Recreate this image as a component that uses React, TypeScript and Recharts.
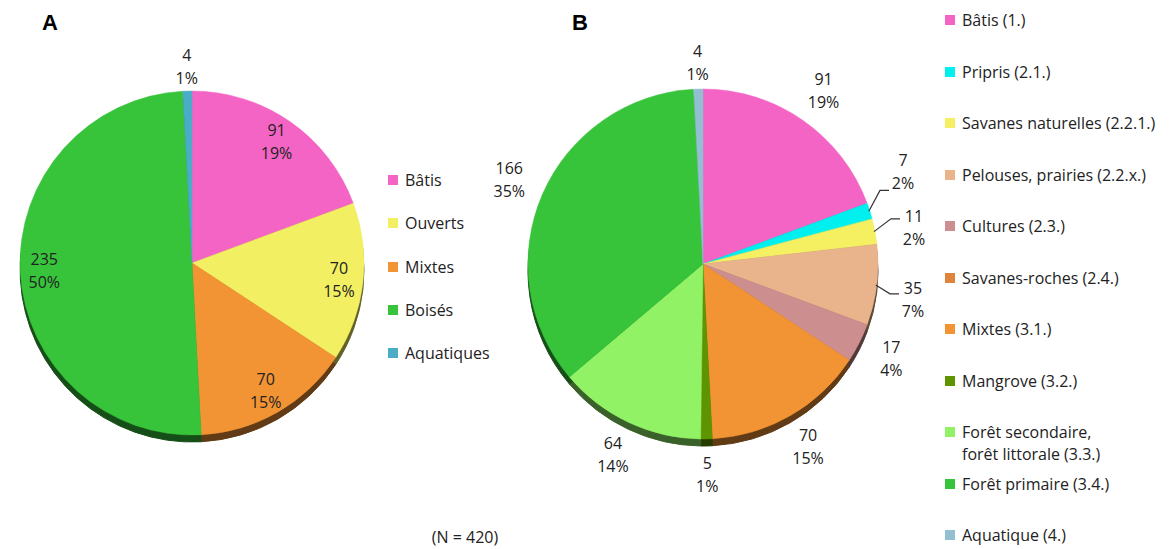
import React from 'react';
import { PieChart, Pie, Cell } from 'recharts';

// Panel A: broad land-cover groups
const categoriesA = ['Bâtis', 'Ouverts', 'Mixtes', 'Boisés', 'Aquatiques'];
const valuesA = [91, 70, 70, 235, 4];
const percentsA = [19, 15, 15, 50, 1];
const colorsA = ['#F464C4', '#F2F062', '#F39434', '#38C43A', '#4BACC6'];

// Panel B: detailed land-cover classes
const categoriesB = [
  'Bâtis (1.)',
  'Pripris (2.1.)',
  'Savanes naturelles (2.2.1.)',
  'Pelouses, prairies (2.2.x.)',
  'Cultures (2.3.)',
  'Savanes-roches (2.4.)',
  'Mixtes (3.1.)',
  'Mangrove (3.2.)',
  'Forêt secondaire,\nforêt littorale (3.3.)',
  'Forêt primaire (3.4.)',
  'Aquatique (4.)',
];
const valuesB = [91, 7, 11, 35, 17, 0, 70, 5, 64, 166, 4];
const percentsB = [19, 2, 2, 7, 4, 0, 15, 1, 14, 35, 1];
const colorsB = [
  '#F464C4', '#00F0F0', '#F4F062', '#E9B48C', '#CC8E8E', '#E0843C',
  '#F39434', '#5E9400', '#92F266', '#38C43A', '#93BFD2',
];

const totalN = 420;

const dataA = categoriesA.map((name, i) => ({ name, value: valuesA[i], pct: percentsA[i] }));
const dataB = categoriesB.map((name, i) => ({ name, value: valuesB[i], pct: percentsB[i] }));

const FONT = '"Open Sans", "Noto Sans", sans-serif';
const FONT_SIZE = 16;
const TEXT = '#222';
const RAD = Math.PI / 180;

const darken = (hex: string, f: number) => {
  const n = parseInt(hex.slice(1), 16);
  const r = Math.round(((n >> 16) & 255) * f);
  const g = Math.round(((n >> 8) & 255) * f);
  const b = Math.round((n & 255) * f);
  return `rgb(${r},${g},${b})`;
};

// geometry of the two pies
const PIE_A = { cx: 187, cy: 258, r: 172 };
const PIE_B = { cx: 698, cy: 259, r: 175 };
const DEPTH = 7;

const polar = (cx: number, cy: number, r: number, deg: number) => ({
  x: cx + r * Math.cos(-deg * RAD),
  y: cy + r * Math.sin(-deg * RAD),
});

const TwoLine = ({ x, y, top, bottom }: { x: number; y: number; top: string; bottom: string }) => (
  <text x={x} y={y} textAnchor="middle" fontFamily={FONT} fontSize={FONT_SIZE} fill={TEXT}>
    <tspan x={x} dy={-11.5 + 5.5}>{top}</tspan>
    <tspan x={x} dy={23}>{bottom}</tspan>
  </text>
);

// Panel A labels: inside the slice, small slices outside
const labelA = (p: any) => {
  const { cx, cy, midAngle, outerRadius, payload, value } = p;
  const small = payload.pct < 3;
  const r = small ? outerRadius + 24 : outerRadius * 0.86;
  const pt = polar(cx, cy, r, midAngle);
  return <TwoLine key={payload.name} x={pt.x} y={pt.y} top={String(value)} bottom={`${payload.pct}%`} />;
};

// Panel B labels: outside, crowded small slices nudged with a leader line
const layoutB: Record<string, { dAngle: number; dR: number; leaderDy?: number }> = {
  'Pripris (2.1.)': { dAngle: 7, dR: 9, leaderDy: 18 },
  'Savanes naturelles (2.2.1.)': { dAngle: -1, dR: 3, leaderDy: -9 },
  'Pelouses, prairies (2.2.x.)': { dAngle: -2.8, dR: 2, leaderDy: -6 },
  'Aquatique (4.)': { dAngle: 0, dR: -10 },
};

const labelB = (p: any) => {
  const { cx, cy, midAngle, outerRadius, payload, value } = p;
  if (!value) return null;
  const lay = layoutB[payload.name] || { dAngle: 0, dR: 0 };
  const pt = polar(cx, cy, outerRadius + 36 + lay.dR, midAngle + lay.dAngle);
  let leader = null;
  if (lay.leaderDy !== undefined) {
    const edge = polar(cx, cy, outerRadius - 1, midAngle);
    const bx = pt.x - 23;
    const by = pt.y + lay.leaderDy;
    leader = (
      <polyline
        points={`${edge.x},${edge.y} ${bx},${by} ${bx + 9},${by}`}
        fill="none"
        stroke="#333"
        strokeWidth={1.2}
      />
    );
  }
  return (
    <g key={payload.name}>
      {leader}
      <TwoLine x={pt.x} y={pt.y} top={String(value)} bottom={`${payload.pct}%`} />
    </g>
  );
};

const Legend = ({ items, colors, x, y0, step }: { items: string[]; colors: string[]; x: number; y0: number; step: number }) => (
  <>
    {items.map((name, i) => (
      <div
        key={name}
        style={{
          position: 'absolute',
          left: x,
          top: y0 + i * step - 11,
          display: 'flex',
          alignItems: 'flex-start',
          fontFamily: FONT,
          fontSize: FONT_SIZE,
          lineHeight: '22px',
          color: TEXT,
          whiteSpace: 'pre',
        }}
      >
        <span style={{ width: 10, height: 10, background: colors[i], marginTop: 6, marginRight: 7, flexShrink: 0 }} />
        <span>{name}</span>
      </div>
    ))}
  </>
);

export default function App() {
  return (
    <div style={{ position: 'absolute', left: 0, top: 0, width: 1169, height: 549, background: '#fff', overflow: 'hidden' }}>
      <PieChart width={1169} height={549} style={{ position: 'absolute', left: 0, top: 0 }}>
        {/* side walls of the tilted pies */}
        <Pie
          data={dataA}
          dataKey="value"
          cx={PIE_A.cx}
          cy={PIE_A.cy + DEPTH}
          outerRadius={PIE_A.r}
          startAngle={90}
          endAngle={-270}
          isAnimationActive={false}
          label={false}
          labelLine={false}
        >
          {dataA.map((d, i) => (
            <Cell key={d.name} fill={darken(colorsA[i], 0.4)} stroke={darken(colorsA[i], 0.4)} />
          ))}
        </Pie>
        <Pie
          data={dataB}
          dataKey="value"
          cx={PIE_B.cx}
          cy={PIE_B.cy + DEPTH}
          outerRadius={PIE_B.r}
          startAngle={90}
          endAngle={-270}
          isAnimationActive={false}
          label={false}
          labelLine={false}
        >
          {dataB.map((d, i) => (
            <Cell key={d.name} fill={darken(colorsB[i], 0.4)} stroke={darken(colorsB[i], 0.4)} />
          ))}
        </Pie>
        {/* pie tops */}
        <Pie
          data={dataA}
          dataKey="value"
          cx={PIE_A.cx}
          cy={PIE_A.cy}
          outerRadius={PIE_A.r}
          startAngle={90}
          endAngle={-270}
          isAnimationActive={false}
          label={labelA}
          labelLine={false}
        >
          {dataA.map((d, i) => (
            <Cell key={d.name} fill={colorsA[i]} stroke={colorsA[i]} strokeWidth={0.5} />
          ))}
        </Pie>
        <Pie
          data={dataB}
          dataKey="value"
          cx={PIE_B.cx}
          cy={PIE_B.cy}
          outerRadius={PIE_B.r}
          startAngle={90}
          endAngle={-270}
          isAnimationActive={false}
          label={labelB}
          labelLine={false}
        >
          {dataB.map((d, i) => (
            <Cell key={d.name} fill={colorsB[i]} stroke={colorsB[i]} strokeWidth={0.5} />
          ))}
        </Pie>
      </PieChart>

      <div style={{ position: 'absolute', left: 42, top: 10, fontFamily: 'Liberation Sans, Arial, sans-serif', fontWeight: 700, fontSize: 22 }}>A</div>
      <div style={{ position: 'absolute', left: 572, top: 10, fontFamily: 'Liberation Sans, Arial, sans-serif', fontWeight: 700, fontSize: 22 }}>B</div>

      <Legend items={categoriesA} colors={colorsA} x={388} y0={180} step={43.3} />
      <Legend items={categoriesB} colors={colorsB} x={945} y0={20} step={51.5} />

      <div
        style={{
          position: 'absolute',
          left: 385,
          width: 160,
          top: 526,
          textAlign: 'center',
          fontFamily: FONT,
          fontSize: FONT_SIZE,
          lineHeight: '22px',
          color: TEXT,
        }}
      >
        {`(N = ${totalN})`}
      </div>
    </div>
  );
}
